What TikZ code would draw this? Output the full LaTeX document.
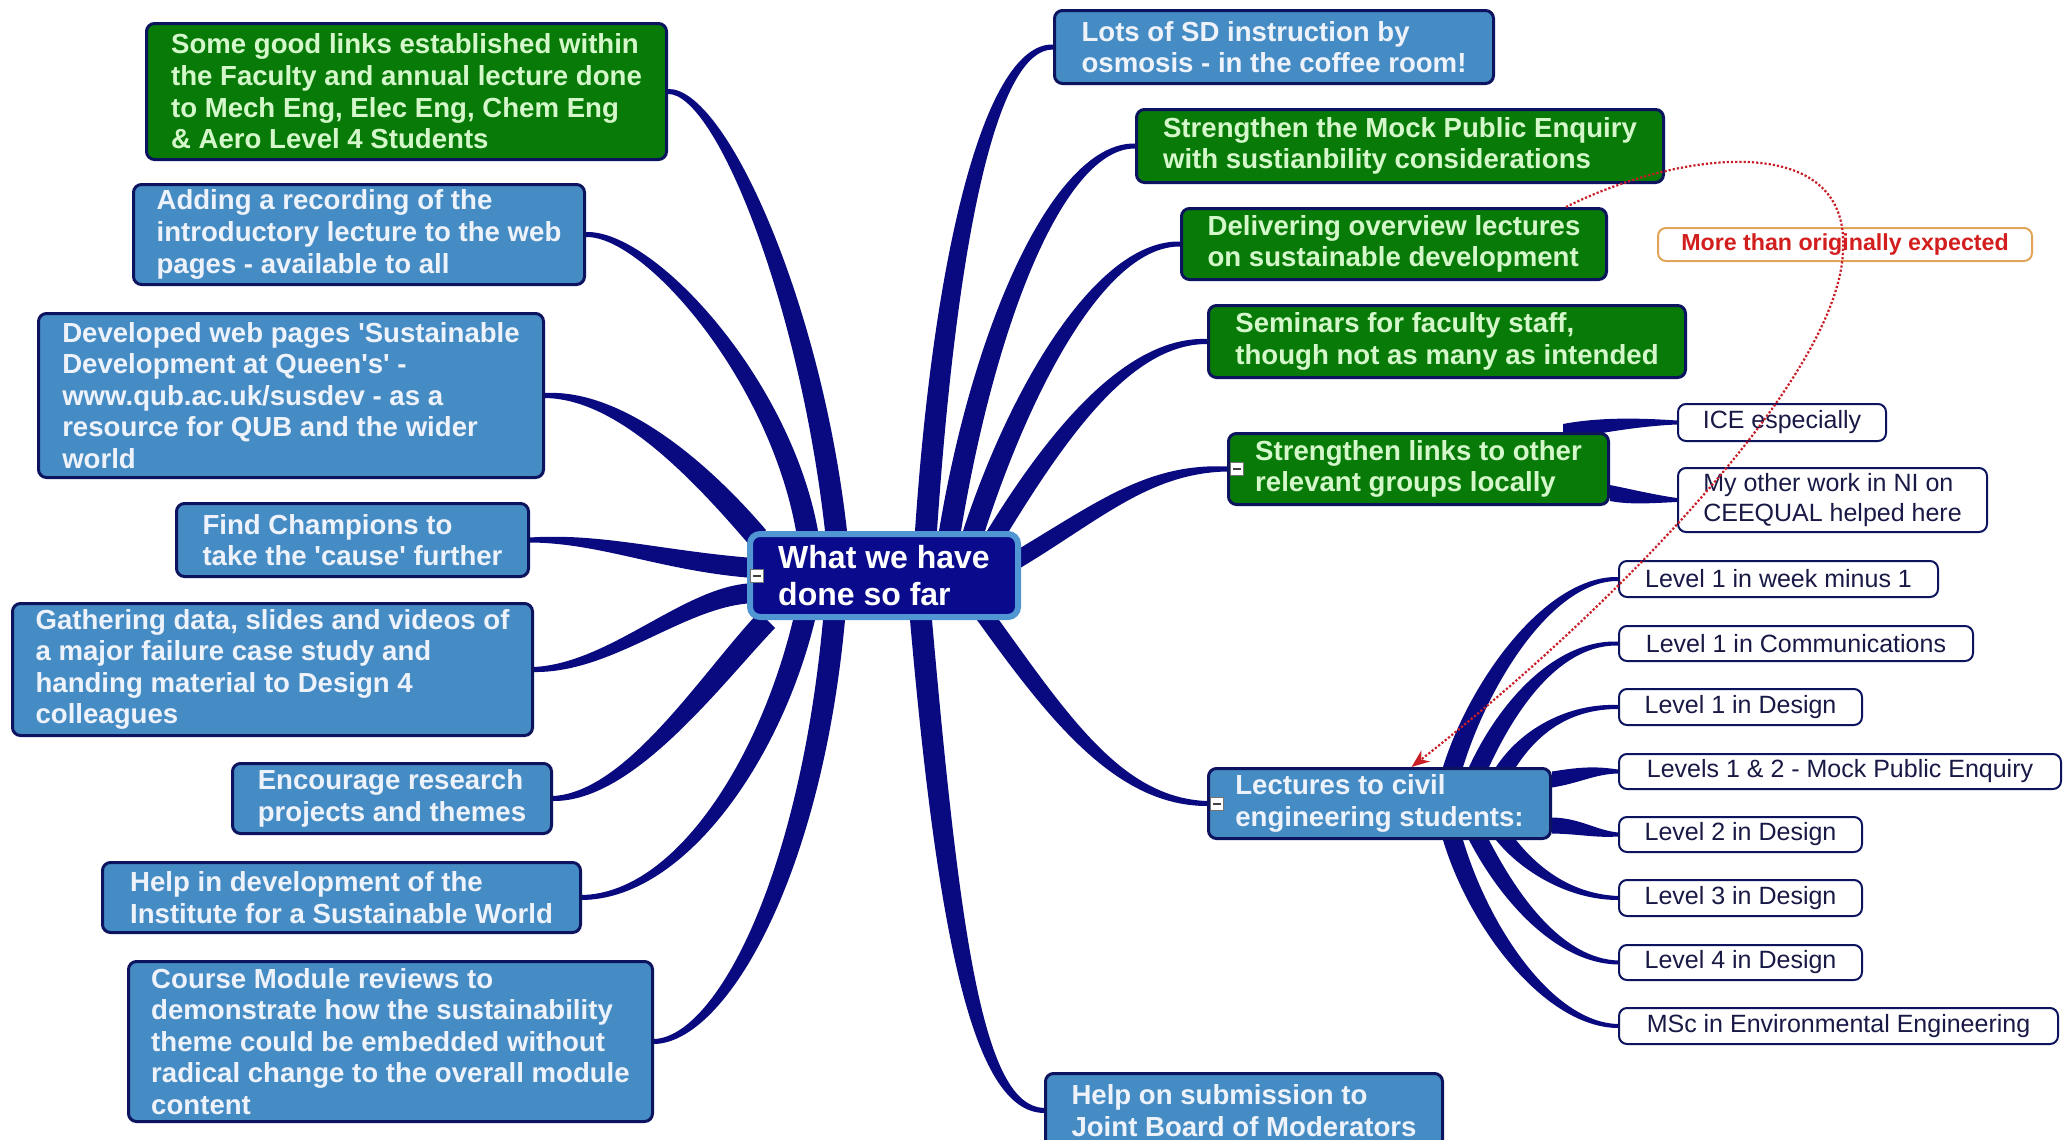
\documentclass[tikz,border=0pt]{standalone}
\usepackage{fontspec}
\setmainfont{Liberation Sans}
\usetikzlibrary{calc,backgrounds,arrows.meta}
\definecolor{navyc}{RGB}{10,10,128}
\definecolor{navyb}{RGB}{12,20,95}
\definecolor{nodeblue}{RGB}{70,140,196}
\definecolor{nodegreen}{RGB}{8,122,8}
\definecolor{bluetext}{RGB}{238,242,250}
\definecolor{greentext}{RGB}{212,248,202}
\definecolor{leaftext}{RGB}{25,25,70}
\definecolor{ctrfill}{RGB}{10,10,140}
\definecolor{ctrborder}{RGB}{80,150,210}
\definecolor{moreborder}{RGB}{225,165,90}
\definecolor{moretext}{RGB}{210,30,30}
\definecolor{dotred}{RGB}{200,30,40}
\tikzset{
  box/.style={draw=navyb, line width=1.5pt, rounded corners=4pt, align=left,
    inner xsep=8pt, inner ysep=2pt, anchor=north west,
    font=\fontsize{13.8}{15.8}\selectfont\bfseries},
  bluebox/.style={box, fill=nodeblue, text=bluetext},
  greenbox/.style={box, fill=nodegreen, text=greentext},
  ctrbox/.style={box, fill=ctrfill, draw=ctrborder, line width=3pt, text=white,
    rounded corners=5pt, font=\fontsize{16}{18.5}\selectfont\bfseries},
  leaf/.style={draw=navyb, line width=1pt, rounded corners=4pt, fill=white,
    text=leaftext, align=left, inner xsep=6pt, inner ysep=1pt, anchor=north west,
    font=\fontsize{12.5}{15}\selectfont},
  morebox/.style={draw=moreborder, line width=1pt, rounded corners=4pt, fill=white,
    text=moretext, align=center, anchor=north west, inner sep=1pt,
    font=\fontsize{11.6}{14}\selectfont\bfseries},
  minusic/.style={draw=black!55, fill=white, line width=0.5pt, minimum size=6.5pt,
    inner sep=0pt, path picture={\draw[line width=1pt, black!75]
      ([xshift=1.3pt]path picture bounding box.west) --
      ([xshift=-1.3pt]path picture bounding box.east);}},
  branch/.style={fill=navyc},
  relarrow/.style={draw=dotred, densely dotted, line width=1.1pt,
    -{Stealth[length=9pt,width=7pt,fill=dotred]}}
}
\newcommand\bx[7]{%
  \pgfmathsetmacro\bw{(#5-#3)/2}\pgfmathsetmacro\bh{(#6-#4)/2}%
  \node[#2, minimum width=\bw pt, minimum height=\bh pt] (#1) at (#3,#4) {#7};}
% start, control1, control2, end, offset at start, offset at control2, offset at end
\newcommand\taper[7]{%
  \fill[branch] ($(#1)+(#5)$) .. controls ($(#2)+(#5)$) and ($(#3)+(#6)$) .. ($(#4)+(#7)$)
    -- ($(#4)-(#7)$) .. controls ($(#3)-(#6)$) and ($(#2)-(#5)$) .. ($(#1)-(#5)$) -- cycle;}
\begin{document}
\begin{tikzpicture}[x=0.5pt,y=-0.5pt]
\useasboundingbox (0,0) rectangle (2067,1140);
% centre
\bx{ctr}{ctrbox}{747}{531}{1015}{614}{What we have\\done so far}
% left
\bx{nA}{greenbox}{145}{22}{665}{158}{Some good links established within\\the Faculty and annual lecture done\\to Mech Eng, Elec Eng, Chem Eng\\\& Aero Level 4 Students}
\bx{nB}{bluebox}{132}{183}{583}{283}{Adding a recording of the\\introductory lecture to the web\\pages - available to all}
\bx{nC}{bluebox}{37}{312}{542}{476}{Developed web pages \textquotesingle Sustainable\\Development at Queen\textquotesingle s\textquotesingle\ -\\www.qub.ac.uk/susdev - as a\\resource for QUB and the wider\\world}
\bx{nD}{bluebox}{175}{502}{527}{575}{Find Champions to\\take the \textquotesingle cause\textquotesingle\ further}
\bx{nE}{bluebox}{11}{602}{531}{734}{Gathering data, slides and videos of\\a major failure case study and\\handing material to Design 4\\colleagues}
\bx{nF}{bluebox}{231}{762}{550}{832}{Encourage research\\projects and themes}
\bx{nG}{bluebox}{101}{861}{579}{931}{Help in development of the\\Institute for a Sustainable World}
\bx{nH}{bluebox}{127}{960}{651}{1120}{Course Module reviews to\\demonstrate how the sustainability\\theme could be embedded without\\radical change to the overall module\\content}
% right
\bx{nI}{bluebox}{1053}{9}{1492}{82}{Lots of SD instruction by\\osmosis - in the coffee room!}
\bx{nJ}{greenbox}{1135}{108}{1662}{181}{Strengthen the Mock Public Enquiry\\with sustianbility considerations}
\bx{nK}{greenbox}{1180}{207}{1605}{278}{Delivering overview lectures\\on sustainable development}
\bx{nL}{greenbox}{1207}{304}{1684}{376}{Seminars for faculty staff,\\though not as many as intended}
\bx{nM}{greenbox}{1227}{432}{1607}{503}{Strengthen links to other\\relevant groups locally}
\bx{nN}{bluebox}{1207}{767}{1549}{837}{Lectures to civil\\engineering students:}
\bx{nO}{bluebox}{1044}{1072}{1441}{1146}{Help on submission to\\Joint Board of Moderators}
% leaves
\bx{ice}{leaf}{1677}{403}{1885}{440}{ICE especially}
\bx{ceeq}{leaf}{1677}{467}{1986}{531}{My other work in NI on\\CEEQUAL helped here}
\bx{lA}{leaf}{1618}{560}{1937}{596}{Level 1 in week minus 1}
\bx{lB}{leaf}{1618}{625}{1972}{660}{Level 1 in Communications}
\bx{lC}{leaf}{1618}{688}{1861}{724}{Level 1 in Design}
\bx{lD}{leaf}{1618}{753}{2060}{788}{Levels 1 \& 2 - Mock Public Enquiry}
\bx{lE}{leaf}{1618}{816}{1861}{851}{Level 2 in Design}
\bx{lF}{leaf}{1618}{879}{1861}{915}{Level 3 in Design}
\bx{lG}{leaf}{1618}{944}{1861}{979}{Level 4 in Design}
\bx{lH}{leaf}{1618}{1007}{2057}{1043}{MSc in Environmental Engineering}
\bx{more}{morebox}{1657}{227}{2031}{260}{More than originally expected}
% collapse icons
\node[minusic] (icC) at ([xshift=5pt]ctr.west) {};
\node[minusic] (icM) at ([xshift=5pt]nM.west) {};
\node[minusic] (icN) at ([xshift=5pt]nN.west) {};
% connector start points
\coordinate (sA) at ($(ctr.north)+(-48,0)$);
\coordinate (sB) at ($(ctr.north)+(-77,0)$);
\coordinate (sC) at ($(ctr.north west)+(12,8)$);
\coordinate (sD) at ($(ctr.west)+(0,-8)$);
\coordinate (sE) at ($(ctr.west)+(0,18)$);
\coordinate (sF) at ($(ctr.south west)+(20,0)$);
\coordinate (sG) at ($(ctr.south)+(-80,0)$);
\coordinate (sH) at ($(ctr.south)+(-50,0)$);
\coordinate (sI) at ($(ctr.north)+(42,0)$);
\coordinate (sJ) at ($(ctr.north)+(66,0)$);
\coordinate (sK) at ($(ctr.north)+(90,0)$);
\coordinate (sL) at ($(ctr.north)+(114,0)$);
\coordinate (sM) at ($(ctr.east)+(0,-18)$);
\coordinate (sN) at ($(ctr.south)+(104,0)$);
\coordinate (sO) at ($(ctr.south)+(37,0)$);
\coordinate (s1) at ($(nN.north east)+(-99,0)$);
\coordinate (s2) at ($(nN.north east)+(-73,0)$);
\coordinate (s3) at ($(nN.north east)+(-46,0)$);
\coordinate (s4) at ($(nN.east)+(0,-24)$);
\coordinate (s5) at ($(nN.east)+(0,22)$);
\coordinate (s6) at ($(nN.south east)+(-46,0)$);
\coordinate (s7) at ($(nN.south east)+(-73,0)$);
\coordinate (s8) at ($(nN.south east)+(-99,0)$);
\coordinate (sIce) at ($(nM.north east)+(-47,0)$);
\coordinate (sCe) at ($(nM.east)+(0,24)$);
\begin{scope}[on background layer]
\fill[white] (0,0) rectangle (2067,1140);
\taper{sA}{810,300}{720,90}{nA.east}{11,0}{5,-3}{0,-2.5}
\taper{sB}{780,380}{650,233}{nB.east}{11,0}{5,-3}{0,-2.5}
\taper{sC}{700,470}{620,394}{nC.east}{7,-9}{2,-5}{0,-2.5}
\taper{sD}{660,560}{600,538}{nD.east}{0,-10}{0,-5}{0,-2.5}
\taper{sE}{680,600}{610,668}{nE.east}{0,-10}{-1,-5}{0,-2.5}
\taper{sF}{710,680}{630,797}{nF.east}{-8,-8}{-3,-5}{0,-2.5}
\taper{sG}{770,760}{680,896}{nG.east}{-11,0}{-5,-3}{0,-2.5}
\taper{sH}{810,880}{720,1040}{nH.east}{-11,0}{-5,-3}{0,-2.5}
\taper{sI}{945,250}{990,46}{nI.west}{11,0}{5,3}{0,2.5}
\taper{sJ}{985,320}{1060,145}{nJ.west}{11,0}{5,3}{0,2.5}
\taper{sK}{1020,390}{1100,243}{nK.west}{11,0}{5,3}{0,2.5}
\taper{sL}{1060,430}{1130,340}{nL.west}{11,0}{4,4}{0,2.5}
\taper{sM}{1100,510}{1150,468}{nM.west}{0,10}{0,5}{0,2.5}
\taper{sN}{1060,720}{1120,802}{nN.west}{-11,0}{-4,4}{0,2.5}
\taper{sO}{950,950}{980,1109}{nO.west}{-11,0}{-5,3}{0,2.5}
\taper{s1}{1480,680}{1550,578}{lA.west}{10,0}{4,2.5}{0,2}
\taper{s2}{1510,700}{1560,642}{lB.west}{10,0}{4,2.5}{0,2}
\taper{s3}{1530,730}{1570,706}{lC.west}{10,0}{3,3}{0,2}
\taper{s4}{1580,775}{1595,770}{lD.west}{0,8}{0,4}{0,2}
\taper{s5}{1580,826}{1595,834}{lE.west}{0,8}{0,4}{0,2}
\taper{s6}{1530,870}{1570,897}{lF.west}{-10,0}{-3,3}{0,2}
\taper{s7}{1510,900}{1560,961}{lG.west}{-10,0}{-4,2.5}{0,2}
\taper{s8}{1480,930}{1550,1025}{lH.west}{-10,0}{-4,2.5}{0,2}
\taper{sIce}{1600,425}{1640,422}{ice.west}{0,8}{0,4}{0,2}
\taper{sCe}{1630,497}{1655,499}{ceeq.west}{0,8}{0,4}{0,2}
\end{scope}
% relationship arrow
\draw[relarrow] ([xshift=-21pt]nK.north east) .. controls (1680,150) and (1850,130) .. (1843,250)
  .. controls (1840,380) and (1600,620) .. ([xshift=16pt]nN.north);
\end{tikzpicture}
\end{document}
